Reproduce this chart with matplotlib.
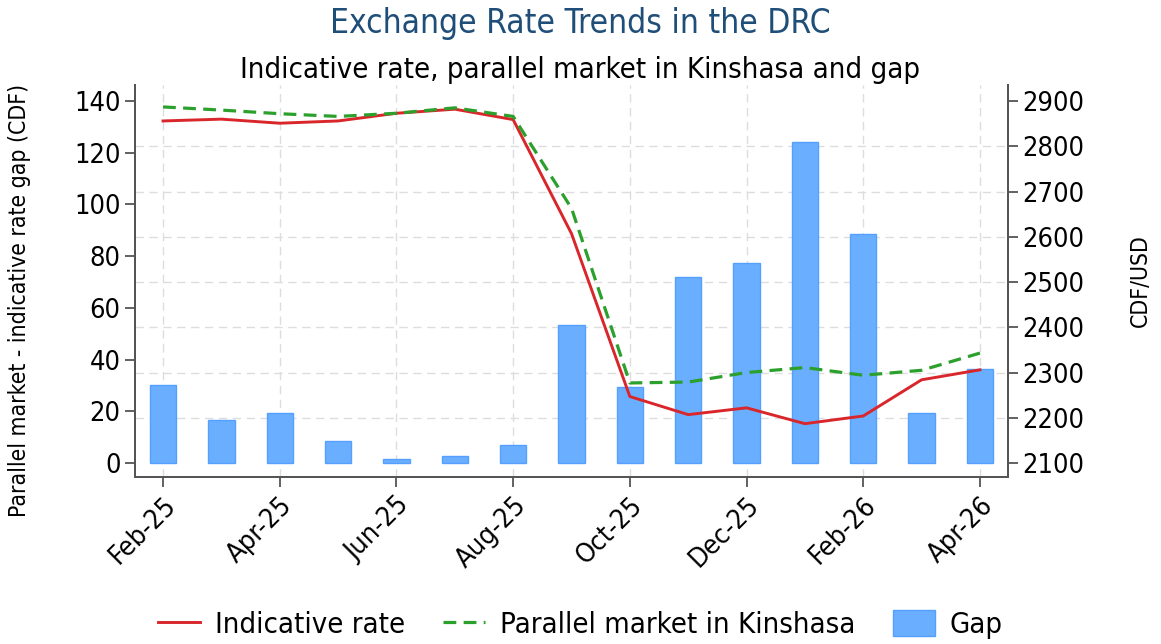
"""DRC exchange rate: indicative vs parallel market (lines) and the gap (bars)."""
import matplotlib
matplotlib.use("Agg")
import matplotlib.pyplot as plt
import numpy as np

plt.rcParams["font.family"] = ["DejaVu Sans"]
plt.rcParams["font.stretch"] = "condensed"

months = ["Feb-25", "Mar-25", "Apr-25", "May-25", "Jun-25", "Jul-25", "Aug-25", "Sep-25",
          "Oct-25", "Nov-25", "Dec-25", "Jan-26", "Feb-26", "Mar-26", "Apr-26"]
gap = [30, 16.5, 19.5, 8.5, 1.5, 2.8, 7, 53.5, 29.3, 72, 77.5, 124, 88.7, 19.3, 36.5]
indicative = [2856, 2860, 2851, 2856, 2873, 2882, 2859, 2607, 2247, 2207, 2222, 2187, 2204, 2284, 2306]
parallel = [2887, 2880, 2872, 2866, 2873, 2885, 2866, 2663, 2277, 2279, 2300, 2311, 2294, 2305, 2343]
gap_ticks = [0, 20, 40, 60, 80, 100, 120, 140]
rate_ticks = [2100, 2200, 2300, 2400, 2500, 2600, 2700, 2800, 2900]

RED, GREEN, BLUE = "#d9262b", "#2ca02c", "#6aaeff"
SPINE = "#555555"

x = np.arange(len(months))
fig = plt.figure(figsize=(11.61, 6.44), dpi=100)
ax = fig.add_axes([0.1163, 0.2593, 0.7519, 0.6087])
ax2 = ax.twinx()

ax.bar(x, gap, width=0.45, color=BLUE, edgecolor="#55a0ff", linewidth=1, zorder=2, label="Gap")
ln1, = ax2.plot(x, indicative, color=RED, lw=2.1, label="Indicative rate")
ln2, = ax2.plot(x, parallel, color=GREEN, lw=2.3, dashes=(4, 2.3), label="Parallel market in Kinshasa")

# the two y scales line up: 0 <-> 2100, 140 <-> 2900
lo, hi = -5.4, 146.2
ax.set_ylim(lo, hi)
ax2.set_ylim(2100 + lo * 800 / 140, 2100 + hi * 800 / 140)
ax.set_xlim(-0.48, len(months) - 1 + 0.48)

ax.set_yticks(gap_ticks)
ax2.set_yticks(rate_ticks)
ax.set_yticks([(v - 2100) * 140 / 800 for v in rate_ticks], minor=True)
ax.set_xticks(x[::2])
ax.set_xticklabels(months[::2], rotation=45, ha="right", rotation_mode="anchor")

ax.grid(axis="x", color="#dddddd", ls=(0, (6, 4)), lw=1, zorder=0)
ax.grid(axis="y", which="minor", color="#dddddd", ls=(0, (6, 4)), lw=1, zorder=0)
ax.set_axisbelow(True)

for a in (ax, ax2):
    a.spines["top"].set_visible(False)
    for s in ("left", "right", "bottom"):
        a.spines[s].set_color(SPINE)
        a.spines[s].set_linewidth(1.4)
    a.tick_params(which="major", length=7, width=1.3, color=SPINE, labelsize=19.5)
ax.tick_params(which="minor", length=0)
ax.tick_params(axis="x", pad=4)

ax.set_ylabel("Parallel market - indicative rate gap (CDF)", fontsize=16.5)
ax.yaxis.set_label_coords(-0.119, 0.45)
ax2.set_ylabel("CDF/USD", fontsize=16.5, labelpad=32)

fig.text(0.5, 0.963, "Exchange Rate Trends in the DRC", ha="center", va="center",
         fontsize=24, color="#1f4e79")
fig.text(0.5, 0.892, "Indicative rate, parallel market in Kinshasa and gap", ha="center",
         va="center", fontsize=21)

bars = ax.containers[0]
fig.legend([ln1, ln2, bars], ["Indicative rate", "Parallel market in Kinshasa", "Gap"],
           loc="center", bbox_to_anchor=(0.5, 0.03), ncol=3, frameon=False, fontsize=21,
           handlelength=1.45, handleheight=1.0, columnspacing=1.3, handletextpad=0.5)

fig.savefig("out.png", dpi=100)
